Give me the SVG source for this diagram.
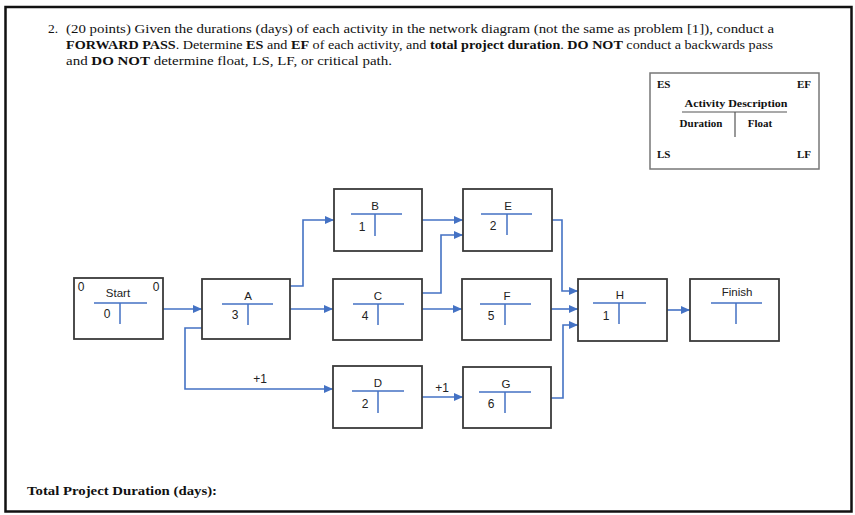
<svg xmlns="http://www.w3.org/2000/svg" width="855" height="515" viewBox="0 0 855 515">
<defs>
<marker id="arr" markerUnits="userSpaceOnUse" markerWidth="9" markerHeight="8" refX="9" refY="4" orient="auto">
<path d="M0,0 L9,4 L0,8 z" fill="#4472C4"/>
</marker>
<style>
.q{font-family:"Liberation Serif","Times New Roman",serif;font-size:13.5px;fill:#111}
.b{font-weight:bold}
.lg{font-family:"Liberation Serif","Times New Roman",serif;font-size:11px;font-weight:bold;fill:#111}
.box{fill:#fff;stroke:#3a3a3a;stroke-width:1.8}
.in{stroke:#4472C4;stroke-width:1.5;fill:none}
.t{font-family:"Liberation Sans",Arial,sans-serif;font-size:11.5px;fill:#222;text-anchor:middle}
.n{font-family:"Liberation Sans",Arial,sans-serif;font-size:12px;fill:#222;text-anchor:middle}
.c{stroke:#4472C4;stroke-width:1.6;fill:none;marker-end:url(#arr)}
</style>
</defs>
<rect x="0" y="0" width="855" height="515" fill="#fff"/>
<rect x="5.5" y="7" width="846" height="504.5" fill="#fff" stroke="#111" stroke-width="2.5"/>

<g id="question">
<text class="q" x="48" y="33">2.</text>
<text class="q" x="66" y="33" textLength="708" lengthAdjust="spacingAndGlyphs">(20 points) Given the durations (days) of each activity in the network diagram (not the same as problem [1]), conduct a</text>
<text class="q" x="66" y="49" textLength="707" lengthAdjust="spacingAndGlyphs"><tspan class="b">FORWARD PASS</tspan>.  Determine <tspan class="b">ES</tspan> and <tspan class="b">EF</tspan> of each activity, and <tspan class="b">total project duration</tspan>.  <tspan class="b">DO NOT</tspan> conduct a backwards pass</text>
<text class="q" x="66" y="65" textLength="326" lengthAdjust="spacingAndGlyphs">and <tspan class="b">DO NOT</tspan> determine float, LS, LF, or critical path.</text>
<text class="q b" x="27" y="495" textLength="190" lengthAdjust="spacingAndGlyphs">Total Project Duration (days):</text>
</g>

<g id="legend">
<rect x="650" y="73" width="169" height="96" fill="#fff" stroke="#777" stroke-width="1.5"/>
<text class="lg" x="657" y="88">ES</text>
<text class="lg" x="811" y="88" text-anchor="end">EF</text>
<text class="lg" x="736" y="107" text-anchor="middle" textLength="103" lengthAdjust="spacingAndGlyphs">Activity Description</text>
<line x1="682" y1="112" x2="787" y2="112" stroke="#555" stroke-width="1.2"/>
<line x1="735" y1="112" x2="735" y2="137" stroke="#555" stroke-width="1.2"/>
<text class="lg" x="701" y="127" text-anchor="middle">Duration</text>
<text class="lg" x="760" y="127" text-anchor="middle">Float</text>
<text class="lg" x="657" y="158">LS</text>
<text class="lg" x="811" y="158" text-anchor="end">LF</text>
</g>

<g id="connectors">
<path class="c" d="M163,309 H202"/>
<path class="c" d="M290,309 H333"/>
<path class="c" d="M290,286 H303 V220 H334"/>
<path class="c" d="M422,220 H463"/>
<path class="c" d="M422,293 H441 V235 H463"/>
<path class="c" d="M422,309 H462"/>
<path class="c" d="M552,220 H562 V291 H578"/>
<path class="c" d="M551,309 H578"/>
<path class="c" d="M551,398 H563 V325 H578"/>
<path class="c" d="M667,310 H690"/>
<path class="c" d="M202,328 H185 V389 H333"/>
<path class="c" d="M422,397 H463"/>
<text class="n" x="260" y="383">+1</text>
<text class="n" x="442" y="392">+1</text>
</g>

<g id="node-start">
<rect class="box" x="74" y="278" width="89" height="61"/>
<text class="n" x="81" y="291">0</text>
<text class="n" x="156" y="291">0</text>
<text class="t" x="118" y="297">Start</text>
<path class="in" d="M94,303 H147 M120,303 V324"/>
<text class="n" x="107" y="318">0</text>
</g>
<g id="node-a">
<rect class="box" x="202" y="279" width="88" height="60"/>
<text class="t" x="248" y="300">A</text>
<path class="in" d="M222,304 H273 M248,304 V325"/>
<text class="n" x="235" y="319">3</text>
</g>
<g id="node-b">
<rect class="box" x="334" y="189" width="88" height="62"/>
<text class="t" x="375" y="210">B</text>
<path class="in" d="M351,214 H402 M375,214 V236"/>
<text class="n" x="362" y="231">1</text>
</g>
<g id="node-c">
<rect class="box" x="333" y="279" width="89" height="61"/>
<text class="t" x="378" y="300">C</text>
<path class="in" d="M353,304 H404 M378,304 V325"/>
<text class="n" x="365" y="320">4</text>
</g>
<g id="node-d">
<rect class="box" x="333" y="366" width="89" height="62"/>
<text class="t" x="378" y="387">D</text>
<path class="in" d="M352,391 H404 M378,391 V413"/>
<text class="n" x="365" y="408">2</text>
</g>
<g id="node-e">
<rect class="box" x="463" y="189" width="89" height="62"/>
<text class="t" x="508" y="210">E</text>
<path class="in" d="M481,214 H532 M507,214 V235"/>
<text class="n" x="493" y="230">2</text>
</g>
<g id="node-f">
<rect class="box" x="462" y="279" width="89" height="61"/>
<text class="t" x="507" y="300">F</text>
<path class="in" d="M480,304 H531 M505,304 V325"/>
<text class="n" x="491" y="320">5</text>
</g>
<g id="node-g">
<rect class="box" x="463" y="367" width="88" height="61"/>
<text class="t" x="506" y="388">G</text>
<path class="in" d="M479,392 H531 M505,392 V413"/>
<text class="n" x="491" y="408">6</text>
</g>
<g id="node-h">
<rect class="box" x="578" y="279" width="89" height="62"/>
<text class="t" x="620" y="299">H</text>
<path class="in" d="M593,303 H646 M619,303 V324"/>
<text class="n" x="606" y="320">1</text>
</g>
<g id="node-finish">
<rect class="box" x="690" y="279" width="89" height="62"/>
<text class="t" x="737" y="296">Finish</text>
<path class="in" d="M711,303 H762 M736,303 V324"/>
</g>
</svg>
